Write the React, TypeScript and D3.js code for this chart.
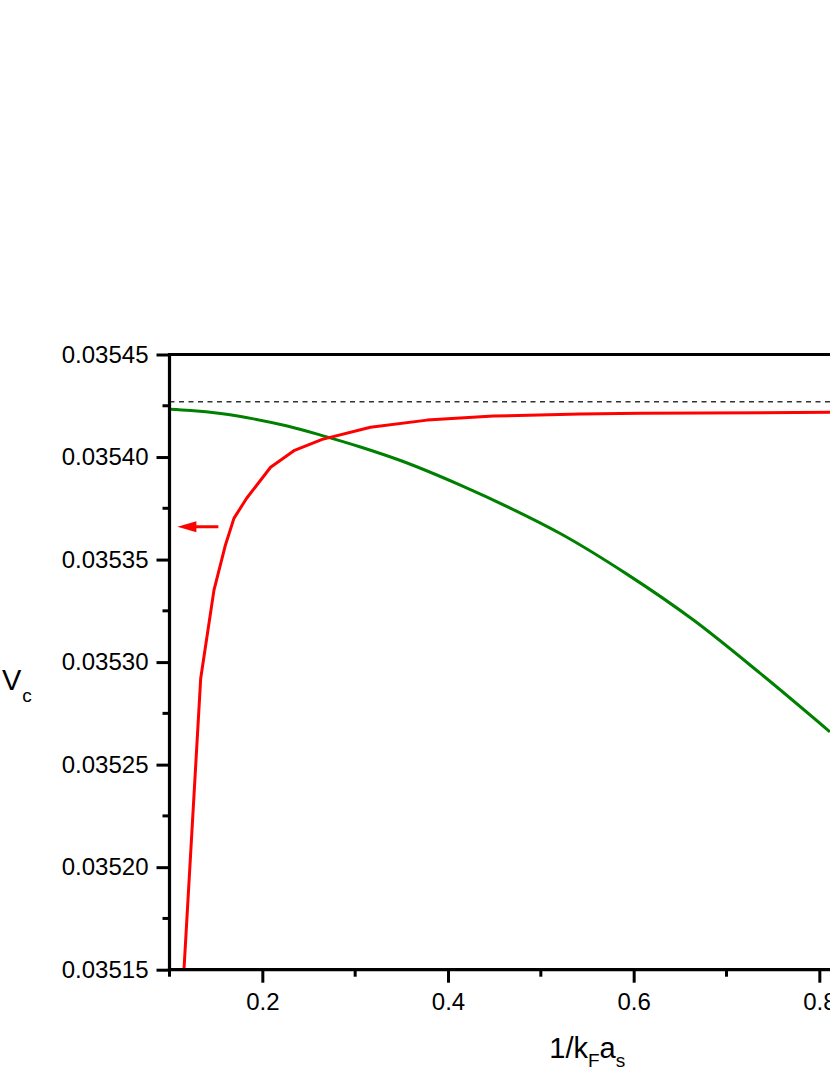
import { useEffect, useRef } from "react"
import * as d3 from "d3"

// values
const redX = [0.1156, 0.1336, 0.1479, 0.16, 0.1694, 0.1831, 0.2089, 0.234, 0.2645, 0.3165, 0.3775, 0.4489, 0.5425, 0.6071, 0.8116]
const redY = [0.03515, 0.035292, 0.0353351, 0.0353567, 0.0353701, 0.0353799, 0.035395, 0.0354031, 0.0354086, 0.0354145, 0.035418, 0.03542, 0.035421, 0.0354213, 0.0354218]

const greenX = [0.1, 0.1228, 0.1551, 0.1906, 0.2269, 0.2627, 0.3057, 0.3488, 0.4133, 0.4671, 0.5209, 0.5927, 0.6644, 0.7361, 0.8114]
const greenY = [0.0354233, 0.0354227, 0.0354212, 0.0354186, 0.0354151, 0.0354107, 0.0354049, 0.0353983, 0.0353863, 0.0353751, 0.0353627, 0.0353429, 0.0353205, 0.0352946, 0.035266]

const limitY = 0.035427
const arrowFrom = [0.1526, 0.035366]
const arrowTo = [0.1085, 0.035366]

const xMajor = [0.2, 0.4, 0.6, 0.8, 1.0]
const xMinor = [0.1, 0.3, 0.5, 0.7, 0.9]
const yMajor = [0.03515, 0.0352, 0.03525, 0.0353, 0.03535, 0.0354, 0.03545]
const yMinor = [0.035175, 0.035225, 0.035275, 0.035325, 0.035375, 0.035425]

const W = 830
const H = 1075
const FONT = "'Liberation Sans', Arial, sans-serif"

export default function App() {
    const svgRef = useRef<SVGSVGElement | null>(null)

    useEffect(() => {
        if (!svgRef.current) return
        const svg = d3.select(svgRef.current)
        svg.selectAll("*").remove()

        const left = 169.5
        const top = 354.5
        const bottom = 969.7
        const right = 1005

        const x = d3.scaleLinear().domain([0.1, 1.0]).range([left, right])
        const y = d3.scaleLinear().domain([0.03515, 0.03545]).range([bottom, top])

        svg.append("defs").append("clipPath").attr("id", "plotClip")
            .append("rect").attr("x", left).attr("y", top).attr("width", right - left).attr("height", bottom - top)

        const plot = svg.append("g").attr("clip-path", "url(#plotClip)")

        // dashed limit
        plot.append("line")
            .attr("x1", left).attr("x2", right)
            .attr("y1", y(limitY)).attr("y2", y(limitY))
            .attr("stroke", "#333").attr("stroke-width", 1.5).attr("stroke-dasharray", "5 4.5")

        const drawSeries = (xs: number[], ys: number[], color: string, curve: d3.CurveFactory) => {
            const pts: [number, number][] = xs.map((v, i) => [x(v), y(ys[i])])
            plot.append("path")
                .attr("d", d3.line().curve(curve)(pts))
                .attr("fill", "none")
                .attr("stroke", color)
                .attr("stroke-width", 3)
                .attr("stroke-linejoin", "round")
        }
        drawSeries(greenX, greenY, "#008000", d3.curveMonotoneX)
        drawSeries(redX, redY, "#ff0000", d3.curveLinear)

        // arrow
        const ax1 = x(arrowFrom[0]), ay = y(arrowFrom[1]), ax2 = x(arrowTo[0])
        plot.append("line")
            .attr("x1", ax1).attr("x2", ax2 + 14).attr("y1", ay).attr("y2", ay)
            .attr("stroke", "#ff0000").attr("stroke-width", 3)
        plot.append("path")
            .attr("d", `M${ax2},${ay} L${ax2 + 19},${ay - 5.5} L${ax2 + 19},${ay + 5.5} Z`)
            .attr("fill", "#ff0000")

        // frame
        svg.append("line").attr("x1", left).attr("x2", right).attr("y1", top).attr("y2", top)
            .attr("stroke", "#000").attr("stroke-width", 3.2)

        // y axis
        const yAxis = svg.append("g").attr("transform", `translate(${left},0)`)
        yAxis.call(d3.axisLeft(y).tickValues(yMajor).tickSize(13).tickPadding(8).tickFormat(d3.format(".5f")))
        yAxis.call(g => g.select(".domain").remove())
        yAxis.selectAll(".tick line").attr("stroke-width", 3)
        yAxis.selectAll(".tick text").attr("font-size", 24).attr("font-family", FONT).attr("fill", "#000")
        yAxis.selectAll(".minor").data(yMinor).enter().append("line")
            .attr("x1", -7).attr("x2", 0)
            .attr("y1", d => y(d)).attr("y2", d => y(d))
            .attr("stroke", "#000").attr("stroke-width", 3)
        svg.append("line").attr("x1", left).attr("x2", left).attr("y1", top - 1.6).attr("y2", bottom + 1.6)
            .attr("stroke", "#000").attr("stroke-width", 3.2)

        // x axis
        const xAxis = svg.append("g").attr("transform", `translate(0,${bottom})`)
        xAxis.call(d3.axisBottom(x).tickValues(xMajor).tickSize(13).tickPadding(10).tickFormat(d3.format(".1f")))
        xAxis.call(g => g.select(".domain").remove())
        xAxis.selectAll(".tick line").attr("stroke-width", 3)
        xAxis.selectAll(".tick text").attr("font-size", 24).attr("font-family", FONT).attr("fill", "#000")
        xAxis.selectAll(".minor").data(xMinor).enter().append("line")
            .attr("x1", d => x(d)).attr("x2", d => x(d))
            .attr("y1", 0).attr("y2", 7)
            .attr("stroke", "#000").attr("stroke-width", 3)
        svg.append("line").attr("x1", left - 1.6).attr("x2", right).attr("y1", bottom).attr("y2", bottom)
            .attr("stroke", "#000").attr("stroke-width", 3.2)

        // axis titles
        const xt = svg.append("text")
            .attr("x", (left + right) / 2).attr("y", 1058)
            .attr("text-anchor", "middle")
            .attr("font-family", FONT).attr("font-size", 29).attr("fill", "#000")
        xt.append("tspan").text("1/k")
        xt.append("tspan").text("F").attr("font-size", 19).attr("dy", 9)
        xt.append("tspan").text("a").attr("dy", -9)
        xt.append("tspan").text("s").attr("font-size", 19).attr("dy", 9)

        const yt = svg.append("text")
            .attr("x", 2).attr("y", 690)
            .attr("font-family", FONT).attr("font-size", 29).attr("fill", "#000")
        yt.append("tspan").text("V")
        yt.append("tspan").text("c").attr("font-size", 19).attr("dx", 1).attr("dy", 12)
    }, [])

    return (
        <svg
            ref={svgRef}
            width={W}
            height={H}
            viewBox={`0 0 ${W} ${H}`}
            style={{ position: "absolute", left: 0, top: 0, background: "#fff" }}
        />
    )
}
